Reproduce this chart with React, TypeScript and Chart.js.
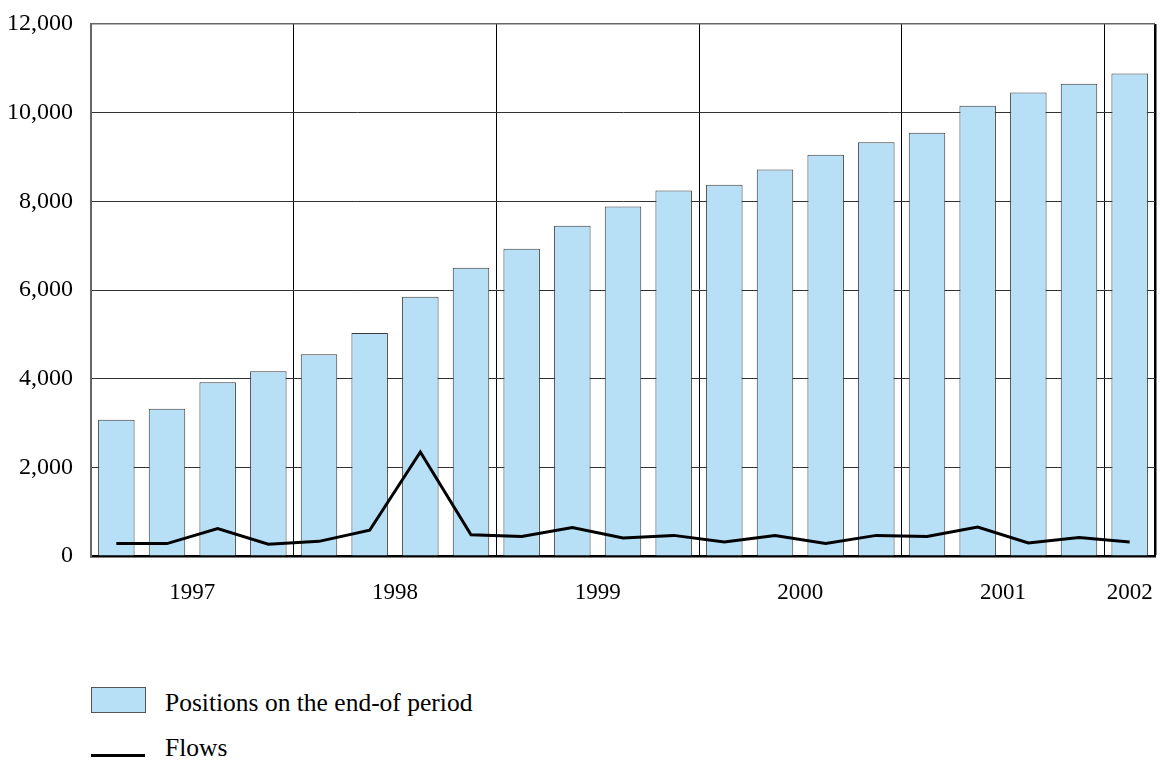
import React, { useEffect, useRef } from 'react';
import { Chart, registerables } from 'chart.js';

Chart.register(...registerables);

const periods = [
  '1997 Q1', '1997 Q2', '1997 Q3', '1997 Q4',
  '1998 Q1', '1998 Q2', '1998 Q3', '1998 Q4',
  '1999 Q1', '1999 Q2', '1999 Q3', '1999 Q4',
  '2000 Q1', '2000 Q2', '2000 Q3', '2000 Q4',
  '2001 Q1', '2001 Q2', '2001 Q3', '2001 Q4',
  '2002 Q1',
];
const positions = [
  3075, 3320, 3920, 4165,
  4550, 5030, 5850, 6500,
  6930, 7450, 7885, 8245,
  8375, 8720, 9050, 9335,
  9545, 10155, 10455, 10650,
  10885,
];
const flows = [
  280, 280, 620, 265,
  330, 580, 2345, 480,
  440, 640, 405, 465,
  315, 460, 285, 465,
  440, 655, 295, 415,
  315,
];
const yearLabels = ['1997', '1998', '1999', '2000', '2001', '2002'];
const yTicks = [0, 2000, 4000, 6000, 8000, 10000, 12000];

const seriesNames = ['Positions on the end-of period', 'Flows'];

const FONT = '"Liberation Serif", "Times New Roman", serif';
const BAR_FILL = '#b7dff6';
const BAR_EDGE = '#3a3a3a';

export default function App() {
  const canvasRef = useRef<HTMLCanvasElement | null>(null);

  useEffect(() => {
    const canvas = canvasRef.current;
    if (!canvas) return;

    const yearCenters = yearLabels.map((yr) => {
      const idx = periods
        .map((p, i) => (p.startsWith(yr) ? i : -1))
        .filter((i) => i >= 0);
      return idx.reduce((a, b) => a + b, 0) / idx.length;
    });

    const chart = new Chart(canvas, {
      type: 'bar',
      data: {
        labels: periods,
        datasets: [
          {
            type: 'line',
            label: seriesNames[1],
            data: flows,
            borderColor: '#000',
            borderWidth: 3,
            pointRadius: 0,
            tension: 0,
            fill: false,
            order: 0,
            xAxisID: 'x',
            yAxisID: 'y',
          } as any,
          {
            type: 'bar',
            label: seriesNames[0],
            data: positions,
            backgroundColor: BAR_FILL,
            borderColor: BAR_EDGE,
            borderWidth: 1,
            categoryPercentage: 1,
            barPercentage: 0.72,
            order: 1,
            xAxisID: 'x',
            yAxisID: 'y',
          },
        ],
      },
      options: {
        responsive: false,
        animation: false,
        layout: { padding: { left: 0, right: 9, top: 24, bottom: 0 } },
        plugins: {
          legend: { display: false },
          tooltip: { enabled: false },
        },
        scales: {
          x: {
            type: 'category',
            position: 'bottom',
            weight: 0,
            offset: true,
            ticks: { display: false },
            grid: {
              offset: true,
              drawTicks: false,
              color: (ctx: any) => {
                if (ctx.type !== 'tick') return '#000';
                if (ctx.index > 0 && ctx.index % 4 === 0) return '#000';
                return 'rgba(0,0,0,0)';
              },
              lineWidth: (ctx: any) => (ctx.type !== 'tick' ? 2.5 : 1),
            },
            border: { display: true, color: '#000', width: 2.5 },
            afterFit: (scale: any) => {
              scale.height = 0;
              scale.paddingLeft = 0;
              scale.paddingRight = 0;
            },
          },
          xYear: {
            type: 'linear',
            position: 'bottom',
            weight: 1,
            offset: false,
            bounds: 'data',
            min: -0.5,
            max: periods.length - 0.5,
            grid: { display: false, drawTicks: false, offset: false },
            border: { display: false },
            afterBuildTicks: (scale: any) => {
              scale.ticks = yearCenters.map((v) => ({ value: v }));
            },
            ticks: {
              autoSkip: false,
              maxRotation: 0,
              minRotation: 0,
              padding: 23,
              color: '#000',
              font: { family: FONT, size: 23 },
              callback: (_v: any, i: number) => yearLabels[i],
            },
            afterFit: (scale: any) => {
              scale.height = 84;
              scale.paddingLeft = 0;
              scale.paddingRight = 0;
            },
          },
          y: {
            type: 'linear',
            min: 0,
            max: 12000,
            afterBuildTicks: (scale: any) => {
              scale.ticks = yTicks.map((v) => ({ value: v }));
            },
            ticks: {
              padding: 18,
              color: '#000',
              font: { family: FONT, size: 24 },
              callback: (v: any) => Number(v).toLocaleString('en-US'),
            },
            grid: {
              drawTicks: false,
              color: (ctx: any) => (ctx.tick && ctx.tick.value === 12000 ? '#666' : '#333'),
              lineWidth: (ctx: any) => (ctx.tick && ctx.tick.value === 12000 ? 1.5 : 1),
            },
            border: { display: true, color: '#666', width: 2 },
            afterFit: (scale: any) => {
              scale.width = 91;
              scale.paddingTop = 0;
              scale.paddingBottom = 0;
            },
          },
        },
      },
    });

    return () => chart.destroy();
  }, []);

  const textStyle: React.CSSProperties = {
    position: 'absolute',
    left: 165,
    fontFamily: FONT,
    fontSize: 25.5,
    color: '#000',
    lineHeight: '30px',
    whiteSpace: 'nowrap',
  };

  return (
    <div style={{ position: 'fixed', left: 0, top: 0, width: 1164, height: 762, background: '#fff', overflow: 'hidden' }}>
      <canvas ref={canvasRef} width={1164} height={640} style={{ position: 'absolute', left: 0, top: 0, width: 1164, height: 640 }} />
      <div
        style={{
          position: 'absolute',
          left: 91,
          top: 687,
          width: 53,
          height: 24,
          background: BAR_FILL,
          border: '1px solid #555',
        }}
      />
      <div style={{ ...textStyle, top: 688 }}>{seriesNames[0]}</div>
      <div style={{ position: 'absolute', left: 91, top: 754, width: 54, height: 3, background: '#000' }} />
      <div style={{ ...textStyle, top: 733 }}>{seriesNames[1]}</div>
    </div>
  );
}
